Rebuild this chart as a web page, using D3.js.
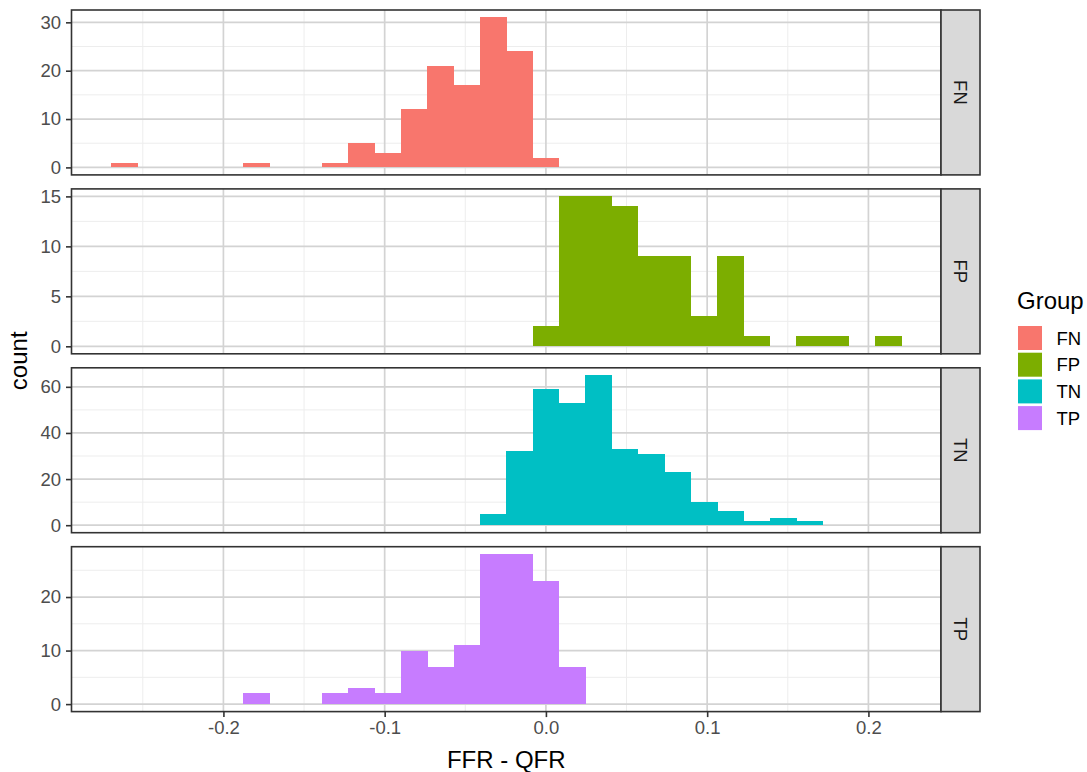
<!DOCTYPE html>
<html>
<head>
<meta charset="utf-8">
<script src="https://cdn.jsdelivr.net/npm/d3@7"></script>
<style>
  html, body { margin: 0; padding: 0; background: #fff; }
  svg { display: block; font-family: "Liberation Sans", Arial, sans-serif; }
</style>
</head>
<body>
<svg id="chart" width="1087" height="772"></svg>
<script>
// Histogram bins shared by every facet: 30 bins starting at binStart
const binStart = -0.2697;
const binWidth = 0.01634;
const groups = ["FN", "FP", "TN", "TP"];
const groupColors = ["#F8766D", "#7CAE00", "#00BFC4", "#C77CFF"];

// Counts per bin (index 0..29) for each group
const countsFN = [1,0,0,0,0,1,0,0,1,5,3,12,21,17,31,24,2,0,0,0,0,0,0,0,0,0,0,0,0,0];
const countsFP = [0,0,0,0,0,0,0,0,0,0,0,0,0,0,0,0,2,15,15,14,9,9,3,9,1,0,1,1,0,1];
const countsTN = [0,0,0,0,0,0,0,0,0,0,0,0,0,0,5,32,59,53,65,33,31,23,10,6,2,3,2,0,0,0];
const countsTP = [0,0,0,0,0,2,0,0,2,3,2,10,7,11,28,28,23,7,0,0,0,0,0,0,0,0,0,0,0,0];

const xTicks = [-0.2, -0.1, 0.0, 0.1, 0.2];
const xMinorTicks = [-0.25, -0.15, -0.05, 0.05, 0.15];
const yTicksFN = [0, 10, 20, 30];
const yTicksFP = [0, 5, 10, 15];
const yTicksTN = [0, 20, 40, 60];
const yTicksTP = [0, 10, 20];

const xTitle = "FFR - QFR";
const yTitle = "count";
const legendTitle = "Group";

const facetCounts = [countsFN, countsFP, countsTN, countsTP];
const facetYTicks = [yTicksFN, yTicksFP, yTicksTN, yTicksTP];

const svg = d3.select("#chart");

// layout
const panelLeft = 71.5, panelRight = 941, stripW = 39;
const panelTop = 10, panelH = 164.9, panelGap = 14;
const nBins = countsFN.length;
const binEnd = binStart + nBins * binWidth;
const span = binEnd - binStart;

const smallFont = 18.5, titleFont = 24;

const x = d3.scaleLinear()
  .domain([binStart - 0.05 * span, binEnd + 0.05 * span])
  .range([panelLeft, panelRight]);

const tickColor = "#333333";
const labelColor = "#4D4D4D";

groups.forEach((g, i) => {
  const counts = facetCounts[i];
  const top = panelTop + i * (panelH + panelGap);
  const bottom = top + panelH;
  const maxC = d3.max(counts);
  const y = d3.scaleLinear()
    .domain([-0.05 * maxC, 1.05 * maxC])
    .range([bottom, top]);
  const yt = facetYTicks[i];
  const step = yt[1] - yt[0];
  const yMinor = [];
  for (let v = yt[0] - step / 2; v <= y.domain()[1]; v += step) {
    if (v >= y.domain()[0]) yMinor.push(v);
  }

  const panel = svg.append("g").attr("class", "panel-" + g);
  panel.append("rect")
    .attr("x", panelLeft).attr("y", top)
    .attr("width", panelRight - panelLeft).attr("height", panelH)
    .attr("fill", "#fff");

  // minor grid
  panel.selectAll(".ymin").data(yMinor).enter().append("line")
    .attr("x1", panelLeft).attr("x2", panelRight)
    .attr("y1", d => y(d)).attr("y2", d => y(d))
    .attr("stroke", "#EDEDED").attr("stroke-width", 1);
  panel.selectAll(".xmin").data(xMinorTicks).enter().append("line")
    .attr("x1", d => x(d)).attr("x2", d => x(d))
    .attr("y1", top).attr("y2", bottom)
    .attr("stroke", "#EDEDED").attr("stroke-width", 1);
  // major grid
  panel.selectAll(".ymaj").data(yt).enter().append("line")
    .attr("x1", panelLeft).attr("x2", panelRight)
    .attr("y1", d => y(d)).attr("y2", d => y(d))
    .attr("stroke", "#D3D3D3").attr("stroke-width", 1.7);
  panel.selectAll(".xmaj").data(xTicks).enter().append("line")
    .attr("x1", d => x(d)).attr("x2", d => x(d))
    .attr("y1", top).attr("y2", bottom)
    .attr("stroke", "#D3D3D3").attr("stroke-width", 1.7);

  // bars
  const bins = counts.map((c, k) => ({
    x0: binStart + k * binWidth,
    x1: binStart + (k + 1) * binWidth,
    c: c
  })).filter(d => d.c > 0);
  panel.selectAll(".bar").data(bins).enter().append("rect")
    .attr("x", d => x(d.x0))
    .attr("width", d => x(d.x1) - x(d.x0) + 0.5)
    .attr("y", d => y(d.c))
    .attr("height", d => y(0) - y(d.c))
    .attr("fill", groupColors[i])
    .attr("shape-rendering", "crispEdges");

  // border
  panel.append("rect")
    .attr("x", panelLeft).attr("y", top)
    .attr("width", panelRight - panelLeft).attr("height", panelH)
    .attr("fill", "none").attr("stroke", tickColor).attr("stroke-width", 1.6);

  // strip
  panel.append("rect")
    .attr("x", panelRight).attr("y", top)
    .attr("width", stripW).attr("height", panelH)
    .attr("fill", "#D9D9D9").attr("stroke", tickColor).attr("stroke-width", 1.6);
  panel.append("text")
    .attr("transform", `translate(${panelRight + stripW / 2},${top + panelH / 2}) rotate(90)`)
    .attr("text-anchor", "middle").attr("dominant-baseline", "central")
    .attr("font-size", smallFont).attr("fill", "#1A1A1A")
    .text(g);

  // y axis
  const yAxis = d3.axisLeft(y).tickValues(yt).tickSize(5.5).tickPadding(5)
    .tickFormat(d3.format("d"));
  const ya = svg.append("g").attr("transform", `translate(${panelLeft},0)`).call(yAxis);
  ya.select(".domain").remove();
  ya.selectAll(".tick line").attr("stroke", tickColor).attr("stroke-width", 1.6);
  ya.selectAll(".tick text").attr("fill", labelColor).attr("font-size", smallFont)
    .attr("font-family", "Liberation Sans, Arial, sans-serif");

  // x axis on the bottom facet
  if (i === groups.length - 1) {
    const xAxis = d3.axisBottom(x).tickValues(xTicks).tickSize(5.5).tickPadding(4)
      .tickFormat(d3.format(".1f"));
    const xa = svg.append("g").attr("transform", `translate(0,${bottom})`).call(xAxis);
    xa.select(".domain").remove();
    xa.selectAll(".tick line").attr("stroke", tickColor).attr("stroke-width", 1.6);
    xa.selectAll(".tick text").attr("fill", labelColor).attr("font-size", smallFont)
      .attr("font-family", "Liberation Sans, Arial, sans-serif")
      .text(d => d3.format(".1f")(d).replace("−", "-"));
  }
});

// axis titles
const plotBottom = panelTop + 4 * panelH + 3 * panelGap;
svg.append("text")
  .attr("x", (panelLeft + panelRight) / 2).attr("y", 768)
  .attr("text-anchor", "middle").attr("font-size", titleFont).attr("fill", "#000")
  .text(xTitle);
svg.append("text")
  .attr("transform", `translate(27,${(panelTop + plotBottom) / 2}) rotate(-90)`)
  .attr("text-anchor", "middle").attr("font-size", titleFont).attr("fill", "#000")
  .text(yTitle);

// legend
const legend = svg.append("g").attr("transform", "translate(1018,0)");
legend.append("text").attr("x", -1).attr("y", 309)
  .attr("font-size", titleFont).attr("fill", "#000").text(legendTitle);
groups.forEach((g, i) => {
  const ky = 326 + i * 26.7;
  legend.append("rect").attr("x", 0).attr("y", ky)
    .attr("width", 24).attr("height", 24).attr("fill", groupColors[i]);
  legend.append("text").attr("x", 38.5).attr("y", ky + 12)
    .attr("dominant-baseline", "central")
    .attr("font-size", smallFont).attr("fill", "#000").text(g);
});
</script>
</body>
</html>
